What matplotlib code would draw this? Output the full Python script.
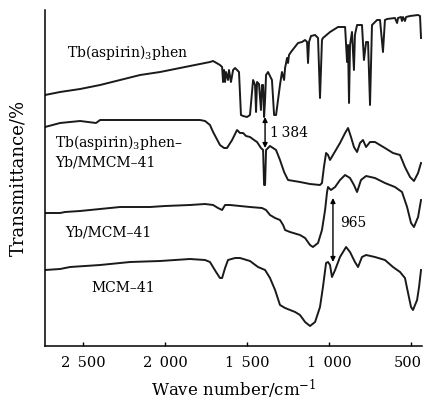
import numpy as np
import matplotlib
matplotlib.use("Agg")
import matplotlib.pyplot as plt
from matplotlib.transforms import ScaledTranslation

plt.rcParams['font.family'] = ['DejaVu Serif']
plt.rcParams['mathtext.fontset'] = 'dejavuserif'

# IR spectra (offset transmittance, arbitrary units)
wn_tb = [2732, 2640, 2518, 2396, 2274, 2152, 2030, 1909, 1787, 1726, 1707, 1665, 1652, 1646, 1640,
         1634, 1628, 1616, 1610, 1598, 1585, 1573, 1549, 1537, 1524, 1500, 1482, 1463, 1451, 1445,
         1439, 1427, 1415, 1409, 1402, 1396, 1390, 1384, 1372, 1360, 1348, 1335, 1323, 1311, 1299,
         1287, 1274, 1268, 1256, 1250, 1244, 1232, 1213, 1189, 1165, 1146, 1134, 1128, 1122, 1110,
         1085, 1067, 1055, 1043, 1037, 994, 945, 902, 890, 884, 878, 872, 860, 848, 842,
         829, 799, 787, 774, 762, 750, 738, 707, 689, 671, 659, 646, 598, 585, 579,
         561, 555, 549, 537, 530, 506, 457, 445, 439]
t_tb = [251, 254, 257, 261, 266, 271, 274, 278, 282, 284, 285, 281, 279, 264, 276,
        264, 274, 266, 276, 264, 276, 278, 274, 231, 230, 229, 231, 266, 261, 234,
        264, 262, 236, 261, 261, 229, 246, 271, 274, 270, 266, 231, 231, 246, 261,
        274, 266, 278, 288, 283, 291, 294, 298, 303, 304, 306, 304, 283, 304, 310,
        311, 308, 248, 306, 308, 314, 319, 319, 284, 301, 243, 301, 314, 276, 311,
        321, 321, 286, 304, 304, 241, 321, 326, 326, 294, 326, 327, 328, 323, 328,
        329, 325, 329, 325, 329, 330, 331, 330, 308]

wn_tbyb = [2732, 2640, 2518, 2421, 2396, 2274, 2030, 1787, 1756, 1726, 1707, 1665, 1640, 1622, 1591,
           1561, 1543, 1524, 1506, 1482, 1457, 1439, 1415, 1402, 1396, 1390, 1384, 1360, 1323, 1299,
           1274, 1250, 1177, 1116, 1055, 1043, 1031, 1018, 1006, 994, 976, 933, 902, 884, 866,
           848, 829, 811, 793, 774, 750, 720, 659, 610, 567, 537, 506, 482, 457, 439]
t_tbyb = [219, 223, 225, 223, 226, 226, 226, 226, 225, 221, 214, 201, 198, 198, 206,
          216, 213, 213, 210, 209, 206, 204, 198, 196, 161, 161, 196, 200, 196, 186,
          174, 166, 164, 162, 161, 163, 179, 193, 191, 186, 191, 203, 213, 218, 209,
          199, 194, 203, 206, 199, 204, 204, 198, 193, 191, 179, 169, 165, 173, 183]

wn_yb = [2732, 2640, 2610, 2518, 2396, 2274, 2091, 2000, 1848, 1756, 1707, 1677, 1652, 1634, 1604,
         1543, 1482, 1409, 1384, 1360, 1329, 1299, 1280, 1268, 1238, 1177, 1146, 1116, 1098, 1067,
         1043, 1024, 1012, 1006, 988, 963, 933, 902, 872, 848, 829, 805, 774, 720, 659,
         598, 555, 524, 500, 482, 457, 439]
t_yb = [133, 133, 134, 135, 137, 139, 139, 140, 141, 142, 141, 138, 136, 141, 141,
        140, 139, 138, 136, 131, 128, 126, 121, 116, 114, 111, 108, 101, 99, 103,
        116, 136, 154, 159, 156, 159, 166, 171, 168, 161, 154, 166, 170, 168, 163,
        159, 154, 139, 123, 119, 129, 146]

wn_mcm = [2732, 2640, 2579, 2396, 2213, 2030, 1848, 1756, 1726, 1689, 1665, 1652, 1634, 1616, 1573,
          1543, 1482, 1433, 1390, 1360, 1329, 1299, 1268, 1207, 1177, 1146, 1116, 1085, 1055, 1037,
          1018, 1006, 994, 982, 963, 933, 896, 872, 842, 823, 799, 774, 720, 659, 610,
          567, 537, 518, 500, 488, 463, 451, 439]
t_mcm = [76, 77, 79, 81, 84, 85, 87, 86, 84, 74, 68, 68, 78, 86, 88,
         88, 85, 79, 76, 68, 56, 41, 38, 34, 31, 24, 20, 24, 39, 59,
         83, 84, 81, 69, 76, 89, 99, 94, 84, 79, 89, 91, 89, 86, 79,
         74, 68, 53, 39, 36, 46, 59, 76]

xticks = [2500, 2000, 1500, 1000, 500]
xticklabels = ['2\u2002500', '2\u2002000', '1\u2002500', '1\u2002000', '500']

fig = plt.figure(figsize=(4.23, 4.03), dpi=100)
ax = fig.add_axes([45/423, 57/403, 377/423, 336/403])

for wn, t in [(wn_tb, t_tb), (wn_tbyb, t_tbyb), (wn_yb, t_yb), (wn_mcm, t_mcm)]:
    ax.plot(wn, t, color='#1a1a1a', lw=1.4)

# peak markers
ax.annotate('', xy=(1390, 229), xytext=(1390, 198),
            arrowprops=dict(arrowstyle='<|-|>', color='black', lw=1, mutation_scale=7, shrinkA=0, shrinkB=0))
ax.text(1360, 213, '1\u2009384', fontsize=10, va='center', ha='left')
ax.annotate('', xy=(976, 148), xytext=(976, 84),
            arrowprops=dict(arrowstyle='<|-|>', color='black', lw=1, mutation_scale=7, shrinkA=0, shrinkB=0))
ax.text(933, 123, '965', fontsize=10, va='center', ha='left')

# curve labels
ax.text(2596, 294, 'Tb(aspirin)$_3$phen', fontsize=10, va='center')
ax.text(2670, 203, 'Tb(aspirin)$_3$phen\u2013', fontsize=10, va='center')
ax.text(2670, 183, 'Yb/MMCM\u201341', fontsize=10, va='center')
ax.text(2610, 113, 'Yb/MCM\u201341', fontsize=10, va='center')
ax.text(2451, 58, 'MCM\u201341', fontsize=10, va='center')

ax.set_xlim(2732, 433)
ax.set_ylim(0, 336)
ax.set_xticks(xticks)
ax.set_xticklabels(xticklabels, fontsize=10.5)
ax.set_yticks([])
ax.tick_params(axis='x', direction='in', length=3, width=1, pad=7)
# keep the last label inside the figure
lab = ax.get_xticklabels()[-1]
lab.set_transform(lab.get_transform() + ScaledTranslation(-3/100, 0, fig.dpi_scale_trans))
ax.spines['top'].set_visible(False)
ax.spines['right'].set_visible(False)
ax.spines['left'].set_linewidth(1.1)
ax.spines['bottom'].set_linewidth(1.1)
ax.set_xlabel('Wave number/cm$^{-1}$', fontsize=12, labelpad=6)
ax.set_ylabel('Transmittance/%', fontsize=13, labelpad=13)

fig.savefig('out.png', dpi=100)
